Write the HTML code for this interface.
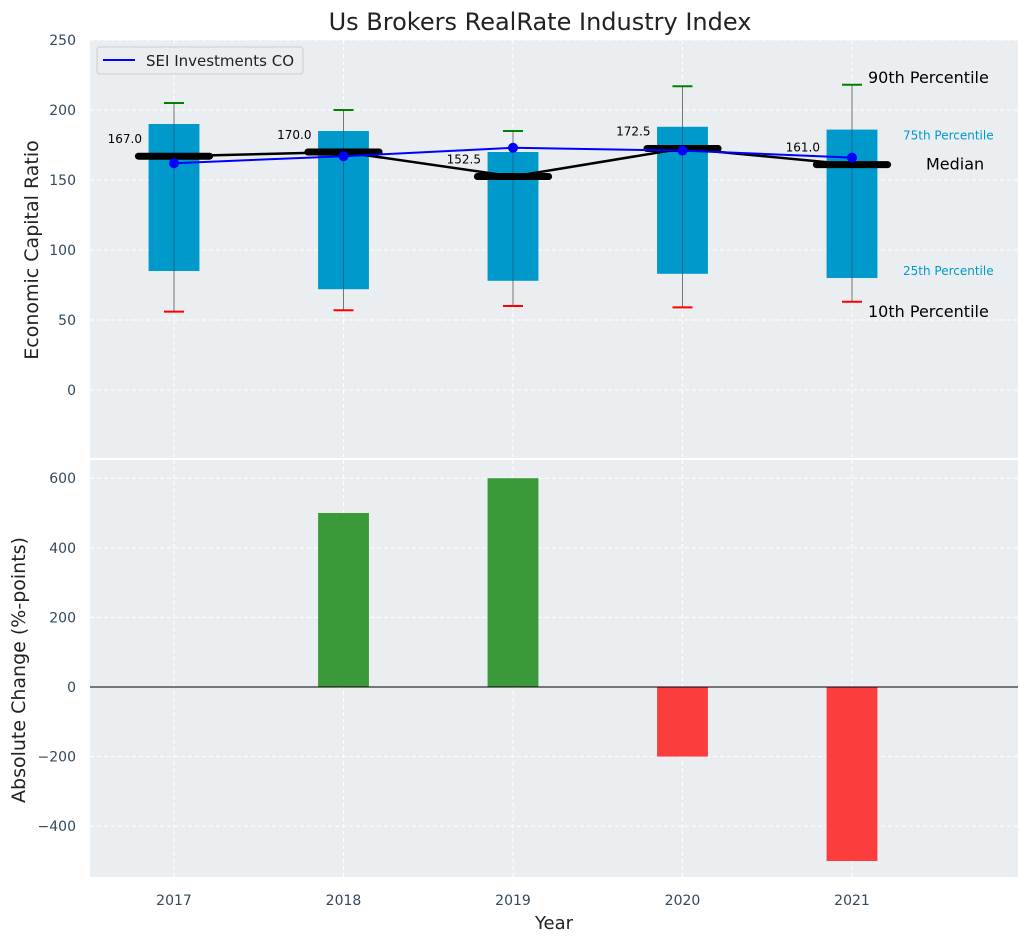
<!DOCTYPE html>
<html><head><meta charset="utf-8"><style>
body{margin:0;background:#fff;font-family:"Liberation Sans","DejaVu Sans",sans-serif}
svg text{font-family:"DejaVu Sans","Liberation Sans",sans-serif}
</style></head><body>
<svg id="c" width="1029" height="942" viewBox="0 0 1029 942" xmlns="http://www.w3.org/2000/svg"></svg>
<script>
const years=[2017,2018,2019,2020,2021];
const p10=[56,57,60,59,63];
const p25=[85,72,78,83,80];
const medians=[167,170,152.5,172.5,161];
const p75=[190,185,170,188,186];
const p90=[205,200,185,217,218];
const sei=[162,167,173,171,166];
const changes=[0,500,600,-200,-500];
const topTicks=[0,50,100,150,200,250];
const botTicks=[-400,-200,0,200,400,600];

const NS="http://www.w3.org/2000/svg";
const svg=document.getElementById('c');
function el(t,a,p){const e=document.createElementNS(NS,t);for(const k in a)e.setAttribute(k,a[k]);(p||svg).appendChild(e);return e;}
const L=90,R=1018;
const PX=169.5;
const X=v=>174+(v-2017)*PX;
const T0=40,T1=458,B0=460,B1=877;
const YT=v=>390-v*1.4;
const YB=v=>687-v*0.348;

let t=el('text',{x:540,y:30,'text-anchor':'middle','font-size':24,fill:'#222'});t.textContent='Us Brokers RealRate Industry Index';


let bg=el('rect',{x:L,y:T0,width:R-L,height:T1-T0,fill:'#eaeef0'});

let bg2=el('rect',{x:L,y:B0,width:R-L,height:B1-B0,fill:'#eaeef0'});


years.forEach(y=>{
  el('line',{x1:X(y),x2:X(y),y1:T0,y2:T1,stroke:'#fff','stroke-dasharray':'4,3','stroke-width':1});
  el('line',{x1:X(y),x2:X(y),y1:B0,y2:B1,stroke:'#fff','stroke-dasharray':'4,3','stroke-width':1});
  const tx=el('text',{x:X(y),y:905,'text-anchor':'middle','font-size':14,fill:'#34495e'});tx.textContent=y;
  
});
topTicks.forEach(v=>{
  el('line',{x1:L,x2:R,y1:YT(v),y2:YT(v),stroke:'#fff','stroke-dasharray':'4,3'});
  const tx=el('text',{x:76,y:YT(v)+5,'text-anchor':'end','font-size':14,fill:'#34495e'});tx.textContent=v;
  
});
botTicks.forEach(v=>{
  el('line',{x1:L,x2:R,y1:YB(v),y2:YB(v),stroke:'#fff','stroke-dasharray':'4,3'});
  const tx=el('text',{x:76,y:YB(v)+5,'text-anchor':'end','font-size':14,fill:'#34495e'});tx.textContent=(v<0?'\u2212'+(-v):v);
  
});

const bw=0.3*PX, mw=0.42*PX;
years.forEach((y,i)=>{
  const x=X(y);
  const w=el('line',{x1:x,x2:x,y1:YT(p90[i]),y2:YT(p10[i]),stroke:'#777','stroke-width':1});
  
  const b=el('rect',{x:x-bw/2,y:YT(p75[i]),width:bw,height:YT(p25[i])-YT(p75[i]),fill:'#0099cc'});
  
  el('line',{x1:x,x2:x,y1:YT(p75[i]),y2:YT(p25[i]),stroke:'#335','stroke-width':0.8,opacity:0.6});
  const c1=el('line',{x1:x-10,x2:x+10,y1:YT(p90[i]),y2:YT(p90[i]),stroke:'green','stroke-width':2});
  
  const c2=el('line',{x1:x-10,x2:x+10,y1:YT(p10[i]),y2:YT(p10[i]),stroke:'red','stroke-width':2});
  
});
let mp=years.map((y,i)=>X(y)+','+YT(medians[i])).join(' ');
let ml=el('polyline',{points:mp,fill:'none',stroke:'#000','stroke-width':2.5});

years.forEach((y,i)=>{
  const m=el('line',{x1:X(y)-mw/2,x2:X(y)+mw/2,y1:YT(medians[i]),y2:YT(medians[i]),stroke:'#000','stroke-width':7,'stroke-linecap':'round'});
  
  const tx=el('text',{x:X(y)-32,y:YT(medians[i])-13,'text-anchor':'end','font-size':12,fill:'#000'});tx.textContent=medians[i].toFixed(1);
  
});
let sp=years.map((y,i)=>X(y)+','+YT(sei[i])).join(' ');
let sl=el('polyline',{points:sp,fill:'none',stroke:'blue','stroke-width':2});

years.forEach((y,i)=>{
  const d=el('circle',{cx:X(y),cy:YT(sei[i]),r:5,fill:'blue'});
  
});
const last=years.length-1;
function ann(txt,x,y,sz,col,name){const a=el('text',{x:x,y:y,'font-size':sz,fill:col});a.textContent=txt;}
ann('90th Percentile',868,YT(p90[last])-2,16,'#000','p90-annotation');
ann('75th Percentile',903,YT(p75[last])+10,12,'#0099cc','p75-annotation');
ann('Median',926,YT(medians[last])+5,16,'#000','median-annotation');
ann('25th Percentile',903,YT(p25[last])-3,12,'#0099cc','p25-annotation');
ann('10th Percentile',868,YT(p10[last])+15,16,'#000','p10-annotation');

const lg=el('g',{});
el('rect',{x:97,y:47,width:206,height:27,rx:3,fill:'#eaeef0',stroke:'#ccc'},lg);
el('line',{x1:103,x2:135,y1:60,y2:60,stroke:'blue','stroke-width':2},lg);
const lt=el('text',{x:146,y:66,'font-size':15,fill:'#222'},lg);lt.textContent='SEI Investments CO';

years.forEach((y,i)=>{
  const v=changes[i];if(v===0)return;
  const r=el('rect',{x:X(y)-bw/2,y:Math.min(YB(v),YB(0)),width:bw,height:Math.abs(YB(v)-YB(0)),fill:v>0?'#3a9a3a':'#fc3d3d'});
  
});
let zl=el('line',{x1:L,x2:R,y1:YB(0),y2:YB(0),stroke:'#000','stroke-width':1});


let a1=el('text',{x:0,y:0,'text-anchor':'middle','font-size':19,fill:'#222',transform:'translate(38,250) rotate(-90)'});a1.textContent='Economic Capital Ratio';

let a2=el('text',{x:0,y:0,'text-anchor':'middle','font-size':19,fill:'#222',transform:'translate(25,670) rotate(-90)'});a2.textContent='Absolute Change (%-points)';

let a3=el('text',{x:554,y:929,'text-anchor':'middle','font-size':18,fill:'#222'});a3.textContent='Year';

</script>
</body></html>
